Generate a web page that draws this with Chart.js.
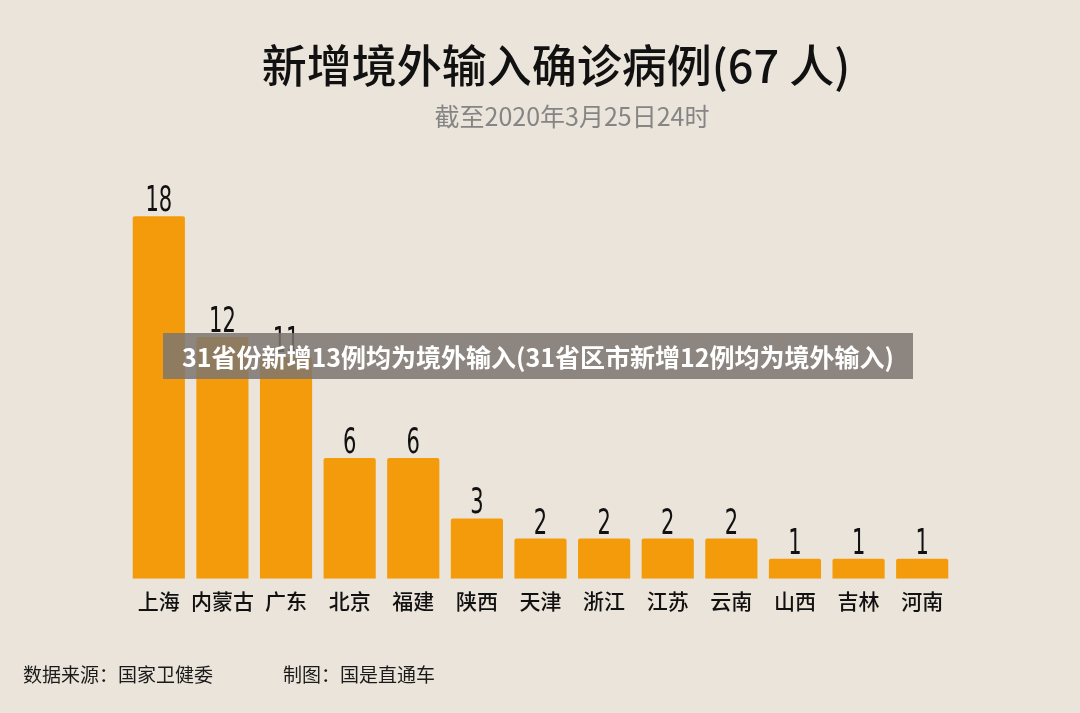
<!DOCTYPE html>
<html>
<head>
<meta charset="utf-8">
<script src="https://cdn.jsdelivr.net/npm/chart.js@4.4.0/dist/chart.umd.min.js"></script>
<style>
  html, body { margin: 0; padding: 0; background: #ebe4da; }
  #wrap { position: relative; width: 1080px; height: 713px; }
  #banner {
    position: absolute; left: 163px; top: 333px; width: 750px; height: 46px;
    background: rgba(125, 118, 112, 0.85); color: #fff;
    font: bold 25px "Noto Sans CJK SC", sans-serif;
    line-height: 46px; text-align: center; white-space: nowrap;
  }
</style>
</head>
<body>
<div id="wrap">
  <canvas id="chart" width="1080" height="713"></canvas>
  <div id="banner">31省份新增13例均为境外输入(31省区市新增12例均为境外输入)</div>
</div>
<script>
var provinces = ['上海', '内蒙古', '广东', '北京', '福建', '陕西', '天津', '浙江', '江苏', '云南', '山西', '吉林', '河南'];
var cases = [18, 12, 11, 6, 6, 3, 2, 2, 2, 2, 1, 1, 1];
var title = '新增境外输入确诊病例(67 人)';
var subtitle = '截至2020年3月25日24时';
var source = '数据来源：国家卫健委';
var maker = '制图：国是直通车';

var cjk = '"Noto Sans CJK SC", sans-serif';

// titles, footer and the number above each bar
var decorations = {
    id: 'decorations',
    afterDatasetsDraw: function(chart) {
        var ctx = chart.ctx;
        ctx.save();
        ctx.textAlign = 'center';
        ctx.textBaseline = 'middle';
        ctx.fillStyle = '#111';
        ctx.font = '500 45px ' + cjk;
        ctx.fillText(title, 556, 66);
        ctx.fillStyle = '#858585';
        ctx.font = '25px ' + cjk;
        ctx.fillText(subtitle, 572, 116);

        ctx.textAlign = 'left';
        ctx.fillStyle = '#1a1a1a';
        ctx.font = '19px ' + cjk;
        ctx.fillText(source, 23, 675);
        ctx.fillText(maker, 283, 675);

        var meta = chart.getDatasetMeta(0);
        ctx.fillStyle = '#111';
        ctx.font = '36px "DejaVu Sans Condensed", sans-serif';
        ctx.textAlign = 'center';
        ctx.textBaseline = 'alphabetic';
        meta.data.forEach(function(bar, i) {
            ctx.save();
            ctx.translate(bar.x, bar.y - 5);
            ctx.scale(0.65, 1);
            ctx.fillText(String(cases[i]), 0, 0);
            ctx.restore();
        });
        ctx.restore();
    }
};

var ctx = document.getElementById('chart').getContext('2d');
var chart = new Chart(ctx, {
    type: 'bar',
    data: {
        labels: provinces,
        datasets: [{
            data: cases,
            backgroundColor: '#f39b0b',
            borderRadius: 2,
            categoryPercentage: 0.82,
            barPercentage: 1
        }]
    },
    options: {
        responsive: false,
        animation: false,
        layout: { padding: { left: 127, right: 126, top: 176, bottom: 89 } },
        plugins: {
            legend: { display: false },
            tooltip: { enabled: false }
        },
        scales: {
            x: {
                grid: { display: false, drawTicks: false },
                border: { display: false },
                ticks: {
                    color: '#111',
                    padding: 10,
                    maxRotation: 0,
                    autoSkip: false,
                    font: { size: 21, weight: '500', family: 'Noto Sans CJK SC' }
                }
            },
            y: {
                display: false,
                min: 0,
                max: 20
            }
        }
    },
    plugins: [decorations]
});
</script>
</body>
</html>
